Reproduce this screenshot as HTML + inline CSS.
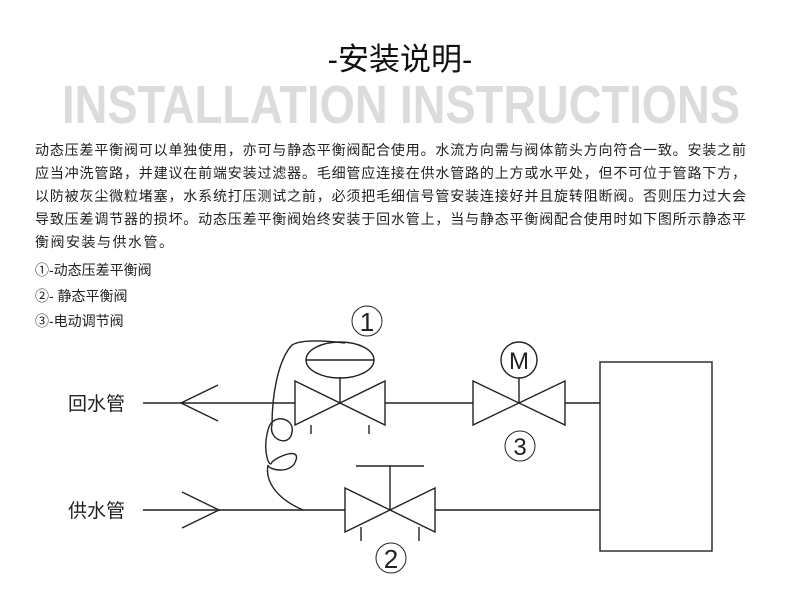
<!DOCTYPE html>
<html><head><meta charset="utf-8"><style>
body{margin:0;width:800px;height:594px;background:#fff;position:relative;overflow:hidden;font-family:"Liberation Sans","Noto Sans CJK SC",sans-serif;}
.t{position:absolute;left:0;width:800px;text-align:center;top:40px;font-size:31px;color:#111;line-height:40px;}
.en{position:absolute;left:62px;top:78px;font-family:"Liberation Sans Narrow","Liberation Sans",sans-serif;font-weight:bold;font-size:54px;color:#dcdcdc;line-height:54px;white-space:nowrap;transform-origin:0 0;}
.l{position:absolute;left:35px;font-size:14px;color:#222;line-height:18px;white-space:nowrap;}
.j{width:711px;text-align:justify;text-align-last:justify;}
</style></head><body>
<div class="t">-安装说明-</div>
<div class="en" id="en">INSTALLATION INSTRUCTIONS</div>
<div class="l j" style="top:141px">动态压差平衡阀可以单独使用，亦可与静态平衡阀配合使用。水流方向需与阀体箭头方向符合一致。安装之前</div>
<div class="l j" style="top:164px">应当冲洗管路，并建议在前端安装过滤器。毛细管应连接在供水管路的上方或水平处，但不可位于管路下方，</div>
<div class="l j" style="top:187px">以防被灰尘微粒堵塞，水系统打压测试之前，必须把毛细信号管安装连接好并且旋转阻断阀。否则压力过大会</div>
<div class="l j" style="top:210px">导致压差调节器的损坏。动态压差平衡阀始终安装于回水管上，当与静态平衡阀配合使用时如下图所示静态平</div>
<div class="l" style="top:233px;letter-spacing:1.5px">衡阀安装与供水管。</div>
<div class="l" style="top:261px">①-动态压差平衡阀</div>
<div class="l" style="top:287px">②- 静态平衡阀</div>
<div class="l" style="top:312px">③-电动调节阀</div>
<svg width="800" height="594" style="position:absolute;left:0;top:0" fill="none" stroke="#222" stroke-width="1.4">
<text x="68" y="410" font-size="19" fill="#222" stroke="none" font-family="Liberation Sans,Noto Sans CJK SC,sans-serif">回水管</text>
<text x="68" y="517" font-size="19" fill="#222" stroke="none" font-family="Liberation Sans,Noto Sans CJK SC,sans-serif">供水管</text>
<line x1="143" y1="403" x2="295" y2="403"/><line x1="385" y1="403" x2="473" y2="403"/><line x1="565" y1="403" x2="600" y2="403"/>
<polyline points="218,385 181,403 218,421"/>
<line x1="143" y1="510" x2="345" y2="510" stroke="#555" stroke-width="2"/><line x1="435" y1="510" x2="600" y2="510" stroke="#555" stroke-width="2"/>
<polyline points="182,492 219,510 182,528"/>
<polygon points="295,381 295,425 385,381 385,425"/>
<line x1="340" y1="403" x2="340" y2="377"/><ellipse cx="340" cy="360" rx="34" ry="18"/><line x1="306" y1="360" x2="374" y2="360"/>
<line x1="311" y1="425" x2="311" y2="434"/><line x1="369" y1="425" x2="369" y2="434"/>
<circle cx="367" cy="321" r="15" stroke-width="1"/><text x="367" y="331" font-size="26" text-anchor="middle" fill="#222" stroke="none">1</text>
<polygon points="345,488 345,532 435,488 435,532"/>
<line x1="390" y1="510" x2="390" y2="466"/><line x1="356" y1="466" x2="424" y2="466"/>
<line x1="361" y1="527" x2="361" y2="541"/><line x1="419" y1="527" x2="419" y2="541"/>
<circle cx="391" cy="558" r="15" stroke-width="1"/><text x="391" y="568" font-size="26" text-anchor="middle" fill="#222" stroke="none">2</text>
<polygon points="473,381 473,425 565,381 565,425"/>
<line x1="519" y1="403" x2="519" y2="378"/><circle cx="519" cy="360" r="18"/>
<text x="519" y="369" font-size="24" text-anchor="middle" fill="#222" stroke="none" font-family="Liberation Sans,sans-serif">M</text>
<circle cx="520" cy="446" r="15" stroke-width="1"/><text x="520" y="455" font-size="24" text-anchor="middle" fill="#222" stroke="none">3</text>
<rect x="600" y="362" width="112" height="189"/>
<path d="M345,343 C320,340 300,340 292,345 C278,360 272,395 272,425 C268,440 290,448 292,432 C295,418 272,412 268,430 C262,452 270,470 272,462 C280,455 300,448 296,460 C292,475 268,470 268,465 C265,480 275,498 303,510"/>
</svg>
<script>
var e=document.getElementById('en');var w=e.getBoundingClientRect().width;e.style.transform='scale('+(678/w)+',1)';
</script>
</body></html>
